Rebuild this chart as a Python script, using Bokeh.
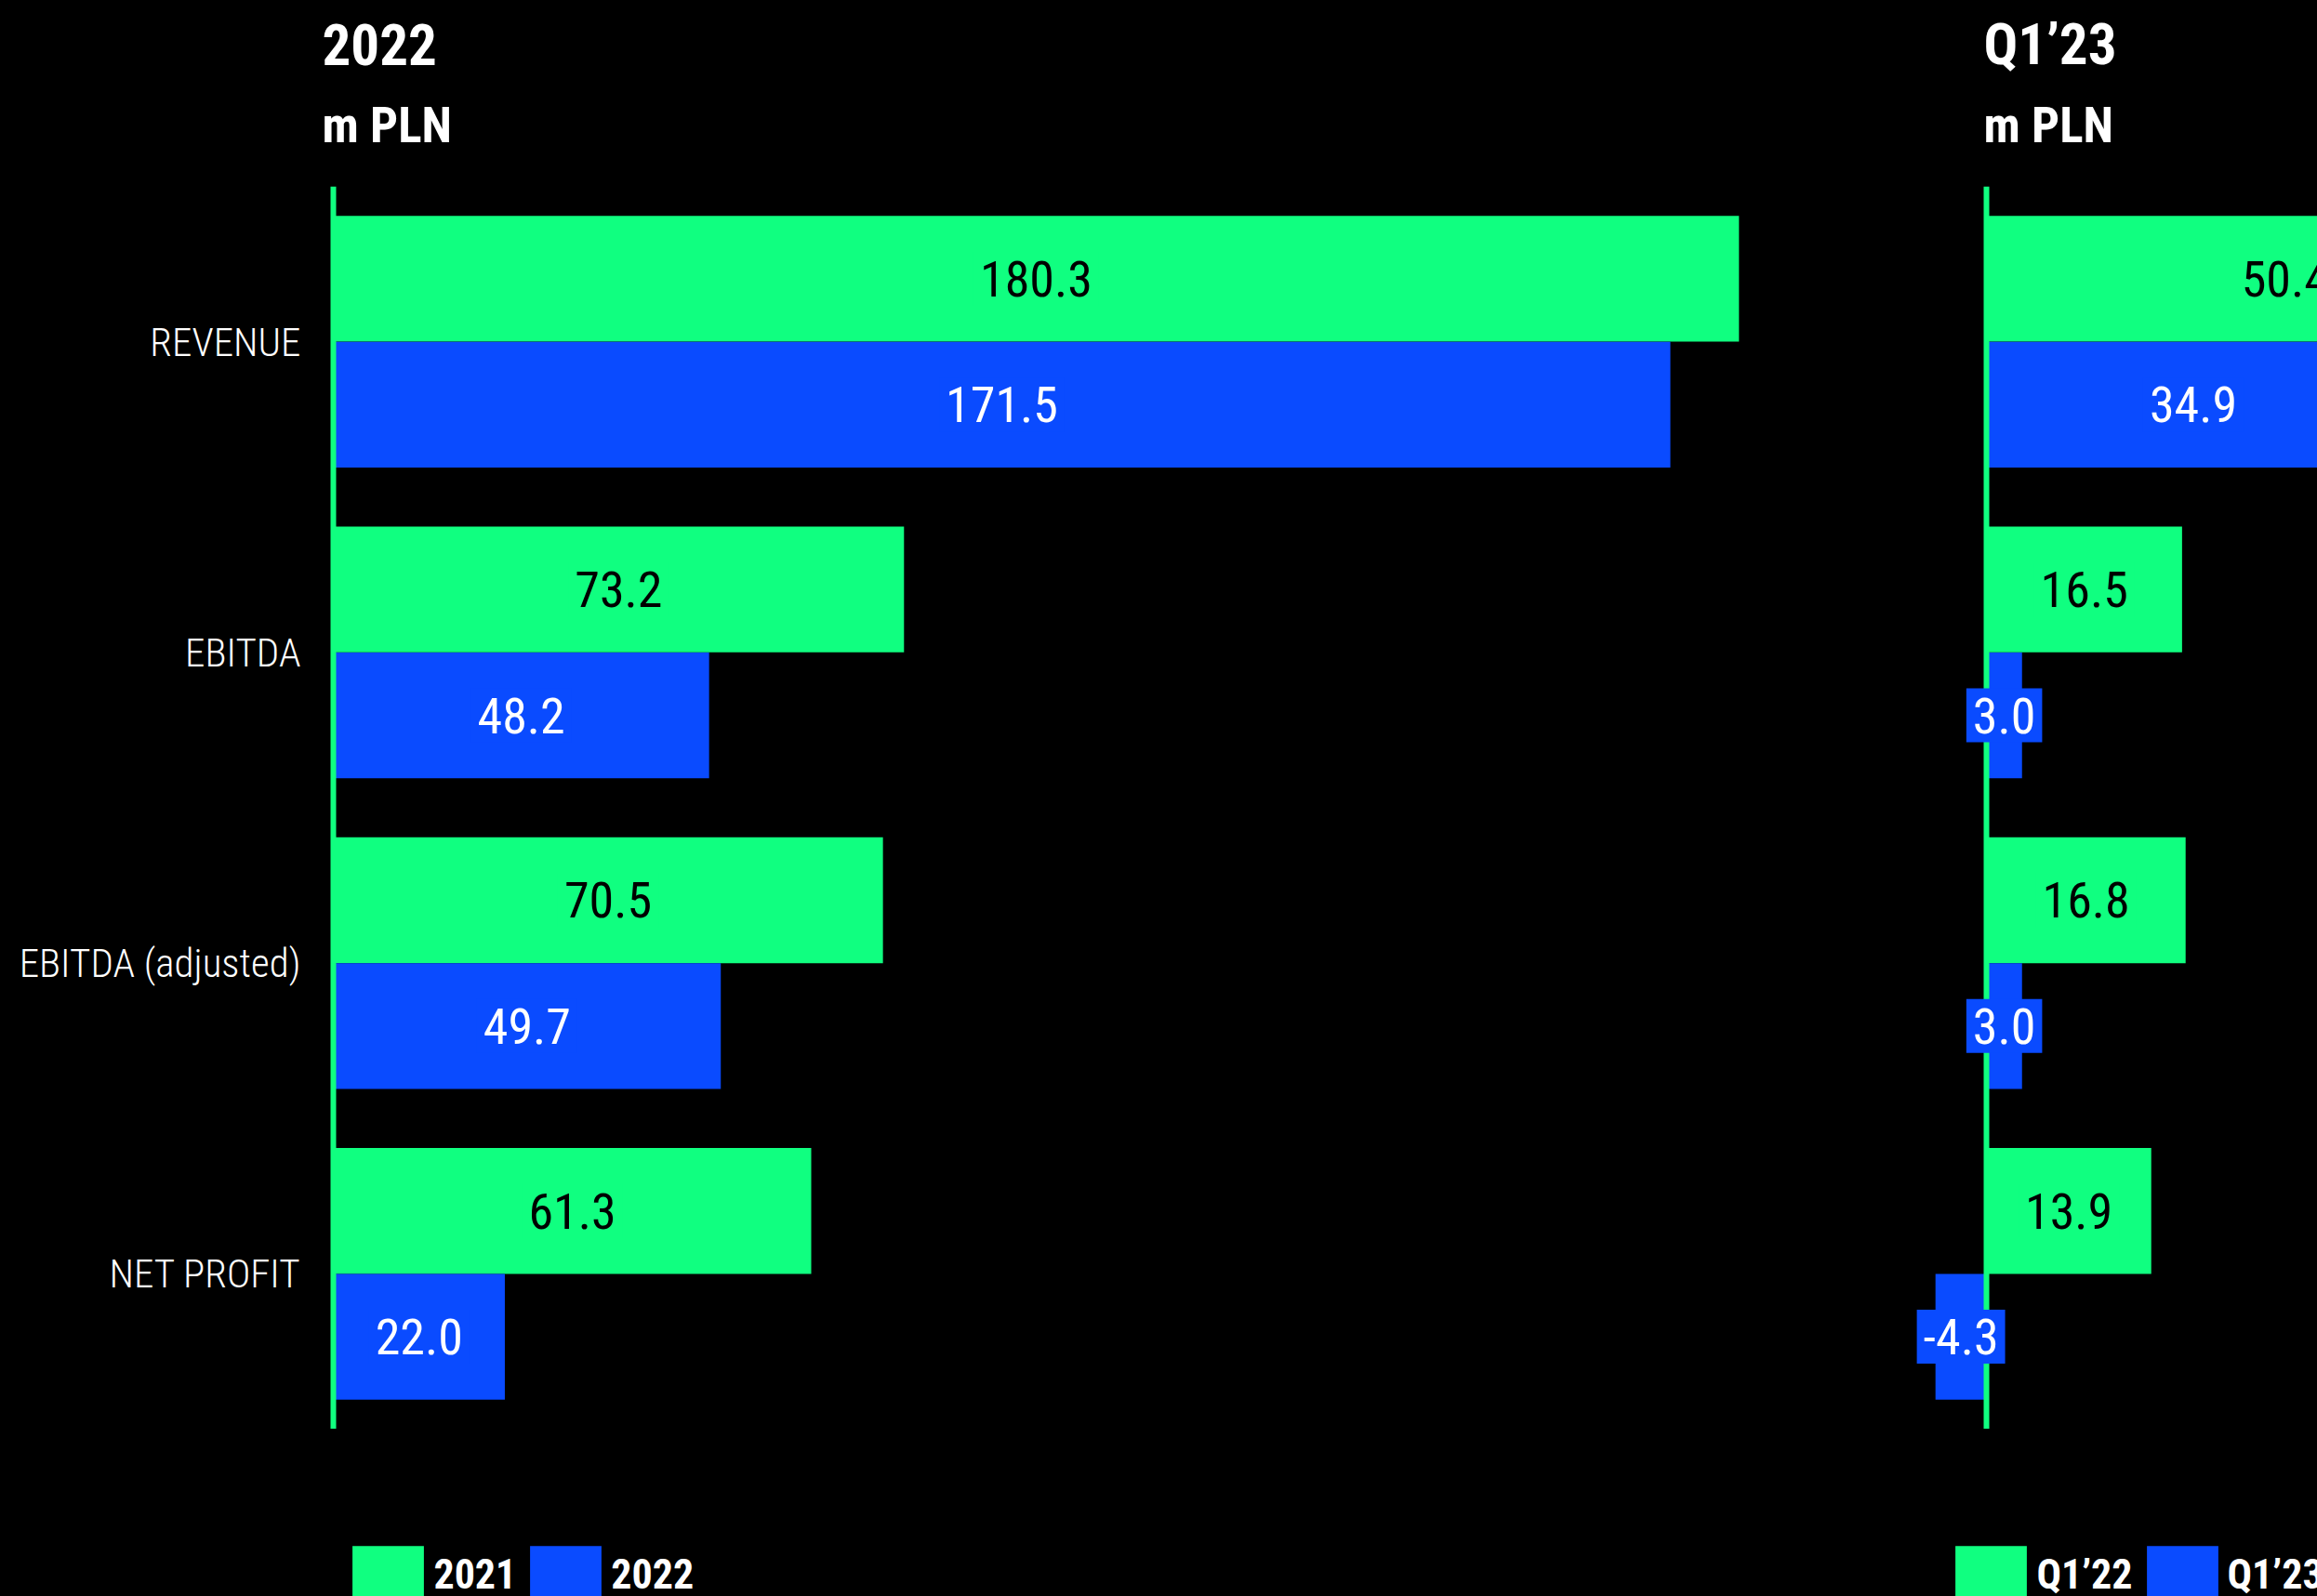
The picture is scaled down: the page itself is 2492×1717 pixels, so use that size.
from bokeh.plotting import figure
from bokeh.layouts import column
from bokeh.models import (ColumnDataSource, FactorRange, Range1d, Span, Label,
                          Legend, LegendItem)
from bokeh.transform import dodge
from bokeh.core.properties import value
from bokeh.embed import file_html
from bokeh.resources import INLINE

# ---- data (m PLN) ----
categories = ["REVENUE", "EBITDA", "EBITDA (adjusted)", "NET PROFIT"]
fy2021 = [180.3, 73.2, 70.5, 61.3]
fy2022 = [171.5, 48.2, 49.7, 22.0]
q1_2022 = [50.4, 16.5, 16.8, 13.9]
q1_2023 = [34.9, 3.0, 3.0, -4.3]
year_names = ["2021", "2022"]
quarter_names = ["Q1’22", "Q1’23"]
panel_titles = ["2022", "Q1’23"]
unit_title = "m PLN"

# ---- styling ----
GREEN = "#10FF80"
BLUE = "#0A4BFF"
BG = "#000000"
FONT_TITLE = "Roboto Condensed"
FONT_NUM = "Roboto Condensed"
FONT_CAT = "Roboto Condensed Light"
BLACK_CSS = {"background-color": BG}

W = 2492
TOP_H, MAIN_H, BOT_H = 200, 1337, 180
FRAME_L = 345
ZERO_Y, ZERO_Q = 358, 2136          # screen x of the two zero lines
PX_Y, PX_Q = 8.385, 12.75           # pixels per m PLN in each panel
PANEL_X = (346, 2133)               # left edge of each panel's heading
LEGEND_X = (379, 2103)              # left edge of each panel's first swatch

OFF, BAR_H = 0.2025, 0.405


def fmt(v):
    return f"{v:.1f}"


def blank(fig):
    fig.background_fill_color = BG
    fig.border_fill_color = BG
    fig.outline_line_color = None
    fig.grid.visible = False
    return fig


src = ColumnDataSource(dict(
    cat=categories,
    y0=fy2021, y1=fy2022, q0=q1_2022, q1=q1_2023,
    y0m=[v / 2 for v in fy2021], y1m=[v / 2 for v in fy2022],
    q0m=[v / 2 for v in q1_2022], q1m=[v / 2 for v in q1_2023],
    y0t=[fmt(v) for v in fy2021], y1t=[fmt(v) for v in fy2022],
    q0t=[fmt(v) for v in q1_2022], q1t=[fmt(v) for v in q1_2023],
))

# ---- headings strip ----
head = blank(figure(width=W, height=TOP_H, x_range=Range1d(0, 1), y_range=Range1d(0, 1),
                    x_axis_location=None, y_axis_location=None, styles=BLACK_CSS,
                    toolbar_location=None, output_backend="svg", min_border=0))
for x_px, title in zip(PANEL_X, panel_titles):
    head.add_layout(Label(x=x_px - FRAME_L, y=153, x_units="screen", y_units="screen",
                          text=title, text_color="white", text_font=FONT_TITLE,
                          text_font_style="bold", text_font_size="61px",
                          text_baseline="alphabetic"))
    head.add_layout(Label(x=x_px - FRAME_L, y=66, x_units="screen", y_units="screen",
                          text=unit_title, text_color="white", text_font=FONT_TITLE,
                          text_font_style="bold", text_font_size="53px",
                          text_baseline="alphabetic"))

# ---- bars ----
p = blank(figure(
    width=W, height=MAIN_H,
    y_range=FactorRange(factors=categories[::-1]),
    x_range=Range1d(-(ZERO_Y - FRAME_L) / PX_Y, (W - ZERO_Y) / PX_Y),
    x_axis_location=None, styles=BLACK_CSS,
    toolbar_location=None, output_backend="svg",
    min_border_left=FRAME_L, min_border_right=0,
    min_border_top=0, min_border_bottom=0,
))
p.extra_x_ranges = {"q": Range1d(-(ZERO_Q - FRAME_L) / PX_Q, (W - ZERO_Q) / PX_Q)}

ax = p.yaxis[0]
ax.axis_line_color = None
ax.major_tick_line_color = None
ax.minor_tick_line_color = None
ax.major_tick_in = 0
ax.major_tick_out = 0
ax.major_label_standoff = 22
ax.major_label_text_color = "white"
ax.major_label_text_font = FONT_CAT
ax.major_label_text_font_size = "43px"

y_top = dodge("cat", OFF, range=p.y_range)
y_bot = dodge("cat", -OFF, range=p.y_range)

p.hbar(y=y_top, left=0, right="y0", height=BAR_H, source=src,
       fill_color=GREEN, line_color=None)
p.hbar(y=y_bot, left=0, right="y1", height=BAR_H, source=src,
       fill_color=BLUE, line_color=None)
p.hbar(y=y_top, left=0, right="q0", height=BAR_H, source=src,
       fill_color=GREEN, line_color=None, x_range_name="q")
p.hbar(y=y_bot, left=0, right="q1", height=BAR_H, source=src,
       fill_color=BLUE, line_color=None, x_range_name="q")

# zero lines
for rng in ("default", "q"):
    p.add_layout(Span(location=0, dimension="height", line_color=GREEN, line_width=6,
                      x_range_name=rng, level="guide"))


def values(xcol, ycoord, tcol, color, fill, rng="default"):
    p.text(x=xcol, y=ycoord, text=tcol, source=src, x_range_name=rng,
           text_align="center", text_baseline="middle",
           text_color=color, text_font=value(FONT_NUM), text_font_size="54px",
           background_fill_color=fill, padding=[7, 10], level="annotation")


values("y0m", y_top, "y0t", "black", GREEN)
values("y1m", y_bot, "y1t", "white", BLUE)
values("q0m", y_top, "q0t", "black", GREEN, "q")
values("q1m", y_bot, "q1t", "white", BLUE, "q")

# ---- legend strip ----
foot = blank(figure(width=W, height=BOT_H, x_range=Range1d(0, 1), y_range=Range1d(0, 1),
                    x_axis_location=None, y_axis_location=None, styles=BLACK_CSS,
                    toolbar_location=None, output_backend="svg", min_border=0))

NAN = float("nan")
SW_W, SW_H = 96, 78      # legend glyph boxes; the swatch fills the inner 80 %


def legend(names, x_px):
    # swatch proxies: one undrawable row each, used only by the legend
    swatches = [foot.hbar(y=[NAN], left=[NAN], right=[NAN], height=1,
                          fill_color=c, line_color=None)
                for c in (GREEN, BLUE)]
    lg = Legend(items=[LegendItem(label=n, renderers=[r]) for n, r in zip(names, swatches)],
                location=(x_px - 0.1 * SW_W - FRAME_L, -16), orientation="horizontal",
                glyph_width=SW_W, glyph_height=SW_H, label_height=SW_H, label_width=0,
                label_standoff=1, spacing=5, padding=0, margin=0,
                border_line_color=None, background_fill_alpha=0,
                label_text_color="white", label_text_font=FONT_TITLE,
                label_text_font_style="bold", label_text_font_size="44px")
    foot.add_layout(lg)


for names, x_px in zip((year_names, quarter_names), LEGEND_X):
    legend(names, x_px)

page = column(head, p, foot, spacing=0, styles=BLACK_CSS)
open("out.html", "w").write(file_html(page, INLINE))
